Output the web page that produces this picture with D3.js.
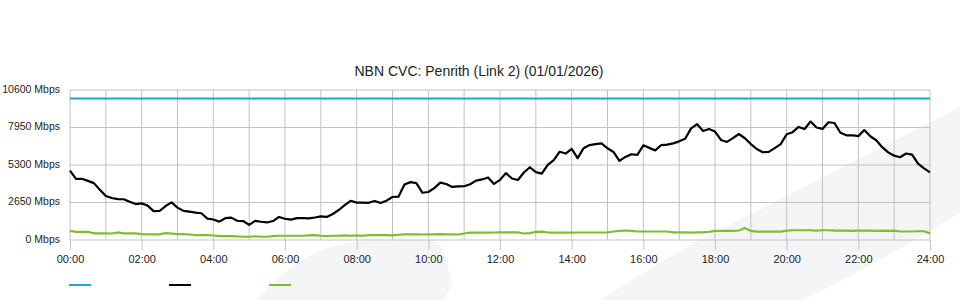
<!DOCTYPE html>
<html>
<head>
<meta charset="utf-8">
<script src="https://cdn.jsdelivr.net/npm/d3@7/dist/d3.min.js"></script>
<style>
  body { margin: 0; background: #fff; }
  text { font-family: "Liberation Sans", Arial, sans-serif; fill: #222; }
</style>
</head>
<body>
<svg id="chart"></svg>
<script>
'use strict';

// minutes since midnight, one sample every 10 minutes
const times = d3.range(0, 24 * 60 + 1, 10);

const capacity = [10000, 10000];
const capacityTimes = [0, 1440];

const traffic = [
  4900, 4320, 4330, 4180, 4020, 3550, 3110, 2970, 2890, 2880, 2700, 2540,
  2590, 2430, 2040, 2050, 2400, 2660, 2290, 2060, 2000, 1930, 1890, 1510,
  1450, 1300, 1540, 1580, 1360, 1340, 1070, 1350, 1290, 1240, 1340, 1630,
  1500, 1440, 1550, 1550, 1530, 1590, 1670, 1630, 1840, 2120, 2470, 2770,
  2640, 2640, 2630, 2760, 2610, 2780, 3040, 3060, 3920, 4090, 4020, 3340,
  3390, 3670, 4050, 3960, 3750, 3790, 3800, 3940, 4200, 4280, 4420, 3960,
  4250, 4730, 4350, 4240, 4770, 5140, 4800, 4690, 5310, 5650, 6240, 6110,
  6440, 5790, 6490, 6710, 6780, 6830, 6480, 6220, 5590, 5870, 6060, 6010,
  6690, 6510, 6330, 6710, 6740, 6830, 6970, 7160, 7890, 8190, 7700, 7840,
  7660, 7070, 6930, 7200, 7490, 7190, 6780, 6430, 6200, 6230, 6490, 6780,
  7470, 7620, 7990, 7840, 8370, 7950, 7850, 8320, 8270, 7580, 7400, 7400,
  7340, 7770, 7330, 7050, 6560, 6190, 5960, 5850, 6110, 6030, 5390, 5060,
  4780
];

const upstream = [
  640, 580, 570, 580, 470, 470, 470, 460, 540, 470, 470, 470,
  420, 400, 400, 400, 490, 460, 420, 420, 390, 350, 350, 350,
  320, 280, 280, 280, 250, 230, 230, 250, 230, 230, 280, 300,
  300, 300, 300, 300, 330, 350, 300, 280, 300, 300, 320, 300,
  320, 300, 350, 350, 350, 350, 330, 370, 400, 400, 400, 390,
  400, 400, 420, 400, 400, 390, 460, 520, 520, 520, 520, 530,
  540, 540, 540, 540, 460, 490, 570, 590, 530, 520, 520, 520,
  520, 530, 530, 530, 530, 530, 530, 600, 640, 670, 640, 600,
  600, 600, 600, 600, 600, 540, 540, 540, 520, 540, 540, 570,
  640, 640, 640, 640, 670, 850, 640, 590, 590, 590, 590, 590,
  660, 690, 690, 690, 690, 660, 690, 690, 660, 660, 660, 640,
  660, 660, 660, 640, 660, 640, 660, 600, 600, 600, 620, 620,
  470
];

const yTicks = [0, 2650, 5300, 7950, 10600];
const xTickHours = d3.range(0, 25, 2);
const gridHours = d3.range(0, 25, 1);
const title = 'NBN CVC: Penrith (Link 2) (01/01/2026)';
const seriesColors = ['#1fa3e0', '#000000', '#7cbf2a'];

const w = 960, h = 300;
const svg = d3.select('#chart').attr('width', w).attr('height', h);

// faint background watermark
svg.append('path')
  .attr('d', 'M600,300 Q640,274 690,245 L960,107 L960,213 Q880,262 803,300 Z')
  .attr('fill', '#f4f5f7');
svg.append('path')
  .attr('d', 'M257,300 C290,262 320,243 370,241 L430,240 Q442,242 446,258 L452,284 L444,300 Z')
  .attr('fill', '#f4f5f7');

const x = d3.scaleLinear().domain([0, 1440]).range([70, 930]);
const y = d3.scaleLinear().domain([0, 10600]).range([240, 90]);

// grid
const grid = svg.append('g').attr('stroke', '#c2c2c2').attr('stroke-width', 1);
grid.selectAll('line.v').data(gridHours).enter().append('line')
  .attr('x1', d => x(d * 60)).attr('x2', d => x(d * 60))
  .attr('y1', y(10600)).attr('y2', y(0));
grid.selectAll('line.h').data(yTicks).enter().append('line')
  .attr('x1', x(0)).attr('x2', x(1440))
  .attr('y1', d => y(d)).attr('y2', d => y(d));

// x axis
const xAxis = d3.axisBottom(x)
  .tickValues(xTickHours.map(d => d * 60))
  .tickSize(10)
  .tickFormat(d => d3.format('02d')(d / 60) + ':00');
const gx = svg.append('g').attr('transform', 'translate(0,240)').call(xAxis);
gx.select('.domain').remove();
gx.selectAll('line').attr('stroke', '#c2c2c2');
gx.selectAll('text').attr('font-size', 11).attr('dy', '0.9em').attr('fill', '#222');

// y axis
const yAxis = d3.axisLeft(y).tickValues(yTicks).tickSize(0).tickPadding(10)
  .tickFormat(d => d + ' Mbps');
const gy = svg.append('g').attr('transform', 'translate(70,0)').call(yAxis);
gy.select('.domain').remove();
gy.selectAll('text').attr('font-size', 10.5).attr('dy', '0.2em').attr('fill', '#222');

// lines
const line = d3.line().x(d => x(d[0])).y(d => y(d[1]));
svg.append('path').datum(capacityTimes.map((t, i) => [t, capacity[i]]))
  .attr('d', line).attr('fill', 'none').attr('stroke', seriesColors[0]).attr('stroke-width', 2);
svg.append('path').datum(times.map((t, i) => [t, upstream[i]]))
  .attr('d', line).attr('fill', 'none').attr('stroke', seriesColors[2]).attr('stroke-width', 2.2);
svg.append('path').datum(times.map((t, i) => [t, traffic[i]]))
  .attr('d', line).attr('fill', 'none').attr('stroke', seriesColors[1]).attr('stroke-width', 2.2)
  .attr('stroke-linejoin', 'round');

// title
svg.append('text').attr('x', 479).attr('y', 76).attr('text-anchor', 'middle')
  .attr('font-size', 14).text(title);

// legend (swatches only)
svg.selectAll('line.legend').data(seriesColors).enter().append('line')
  .attr('x1', (d, i) => 69 + i * 100).attr('x2', (d, i) => 91 + i * 100)
  .attr('y1', 285).attr('y2', 285)
  .attr('stroke', d => d).attr('stroke-width', 2);
</script>
</body>
</html>
